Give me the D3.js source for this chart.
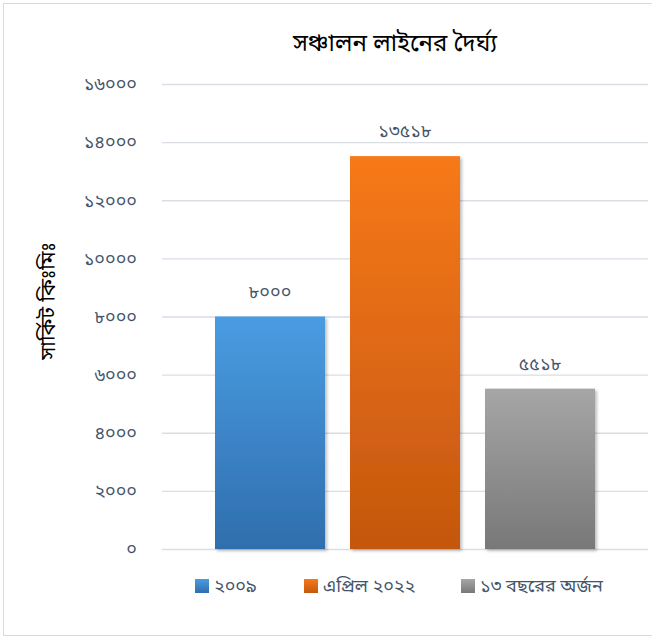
<!DOCTYPE html>
<html>
<head>
<meta charset="utf-8">
<script src="https://cdn.jsdelivr.net/npm/d3@7"></script>
<style>
  html, body { margin: 0; padding: 0; background: #fff; }
  svg { display: block; }
  text { font-family: "Noto Sans Bengali", "Noto Sans", "Noto Sans CJK SC", sans-serif; }
</style>
</head>
<body>
<svg id="chart" width="652" height="641"></svg>
<script>
// Transmission line length (circuit km)
const title = "সঞ্চালন লাইনের দৈর্ঘ্য";
const yTitle = "সার্কিট কিঃমিঃ";
const series = ["২০০৯", "এপ্রিল ২০২২", "১৩ বছরের অর্জন"];
const values = [8000, 13518, 5518];
const tickValues = [0, 2000, 4000, 6000, 8000, 10000, 12000, 14000, 16000];
const tickLabels = ["০", "২০০০", "৪০০০", "৬০০০", "৮০০০", "১০০০০", "১২০০০", "১৪০০০", "১৬০০০"];
const valueLabels = ["৮০০০", "১৩৫১৮", "৫৫১৮"];
const gradients = [
  ["#4a9ce2", "#2f6ead"],
  ["#f7791a", "#c4570f"],
  ["#a6a6a6", "#787878"]
];

const svg = d3.select("#chart");
const W = 652, H = 641;
const margin = { left: 162, right: 4, top: 84, bottom: 92 };
const plotW = W - margin.left - margin.right;
const plotH = H - margin.top - margin.bottom;

const defs = svg.append("defs");
gradients.forEach((g, i) => {
  const lg = defs.append("linearGradient")
    .attr("id", "grad" + i).attr("x1", 0).attr("y1", 0).attr("x2", 0).attr("y2", 1);
  lg.append("stop").attr("offset", "0%").attr("stop-color", g[0]);
  lg.append("stop").attr("offset", "100%").attr("stop-color", g[1]);
});
const shadow = defs.append("filter").attr("id", "shadow")
  .attr("x", "-10%").attr("y", "-10%").attr("width", "130%").attr("height", "130%");
shadow.append("feDropShadow").attr("dx", 2).attr("dy", 2).attr("stdDeviation", 1.6)
  .attr("flood-color", "#000").attr("flood-opacity", 0.25);

// chart frame
svg.append("rect").attr("x", 3.5).attr("y", 3.5).attr("width", 660).attr("height", 632)
  .attr("fill", "#fff").attr("stroke", "#d9d9d9").attr("stroke-width", 1);

const g = svg.append("g").attr("transform", `translate(${margin.left},${margin.top})`);

const y = d3.scaleLinear().domain([0, 16000]).range([plotH, 0]);
// single category group; bars for each series
const x = d3.scaleBand().domain(series).range([53, plotW - 53]).paddingInner(25 / 135).paddingOuter(0);

// gridlines
g.append("g").attr("class", "grid")
  .call(d3.axisLeft(y).tickValues(tickValues).tickSize(-plotW).tickFormat(""))
  .call(s => s.select(".domain").remove())
  .call(s => s.selectAll("line").attr("stroke", "#d9dde4").attr("stroke-width", 1.3));

// y axis labels
g.append("g")
  .attr("transform", "translate(-25,0)")
  .call(d3.axisLeft(y).tickValues(tickValues).tickSize(0).tickPadding(0)
    .tickFormat(d => tickLabels[tickValues.indexOf(d)]))
  .call(s => s.select(".domain").remove())
  .call(s => s.selectAll("text").attr("fill", "#44546a").attr("font-size", 18));

// bars
g.selectAll("rect.bar").data(values).join("rect")
  .attr("class", "bar")
  .attr("x", (d, i) => x(series[i]))
  .attr("y", d => y(d))
  .attr("width", x.bandwidth())
  .attr("height", d => plotH - y(d))
  .attr("fill", (d, i) => `url(#grad${i})`)
  .attr("filter", "url(#shadow)");

// value labels
g.selectAll("text.val").data(values).join("text")
  .attr("class", "val")
  .attr("x", (d, i) => x(series[i]) + x.bandwidth() / 2)
  .attr("y", d => y(d) - 19)
  .attr("text-anchor", "middle")
  .attr("fill", "#44546a").attr("font-size", 18)
  .text((d, i) => valueLabels[i]);

// title
svg.append("text").attr("x", 395).attr("y", 51).attr("text-anchor", "middle")
  .attr("font-size", 24).attr("fill", "#000").text(title);

// y axis title
svg.append("text").attr("transform", "translate(55,301) rotate(-90)")
  .attr("text-anchor", "middle").attr("font-size", 21).attr("fill", "#000").text(yTitle);

// legend
const legendX = [195, 304, 461];
const lg = svg.append("g");
series.forEach((s, i) => {
  lg.append("rect").attr("x", legendX[i]).attr("y", 579).attr("width", 14).attr("height", 14)
    .attr("fill", `url(#grad${i})`);
  lg.append("text").attr("x", legendX[i] + 19).attr("y", 592)
    .attr("font-size", 18).attr("fill", "#44546a").text(s);
});
</script>
</body>
</html>
